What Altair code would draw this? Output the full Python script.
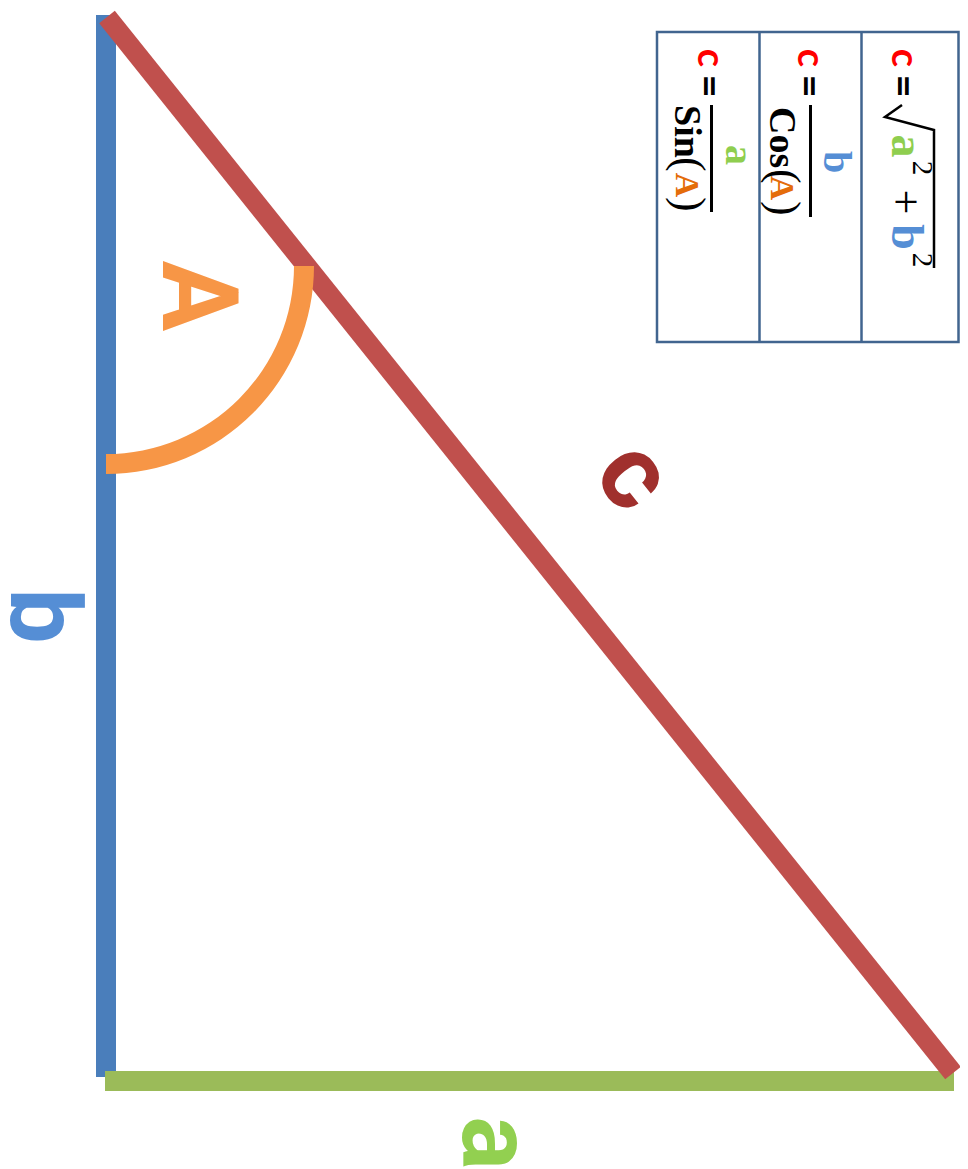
import math
import altair as alt
import pandas as pd

# ---------------- diagram data (diagram units, y grows downward) ----------------
SIDE_NAMES = ["b", "a", "c"]
SIDE_X1 = [106, 105, 107]
SIDE_Y1 = [15, 1081, 17]
SIDE_X2 = [106, 954, 953]
SIDE_Y2 = [1077, 1081, 1073]
SIDE_COLORS = ["#4a7ebb", "#9bbb59", "#c0504d"]

ANGLE_CENTER = [106, 266]          # centre of the angle arc
ANGLE_SPAN_DEG = [90, 180]         # clockwise from 12 o'clock

LABELS = ["A", "b", "c", "a"]
LABEL_X = [163, 11, 633, 463]
LABEL_Y = [296, 616, 476, 1143]
LABEL_ANGLE = [90, 90, 51, 90]
LABEL_SIZE = [105, 98, 105, 100]
LABEL_COLORS = ["#f79646", "#558ed5", "#a0302d", "#92d050"]

TABLE_COLS = [657, 759.5, 861.5, 958.5]
TABLE_ROWS = [32, 342]

# formula pieces: text, baseline x, y, style
F_TEXT = ["c", "=", "a", "2", "+", "b", "2",
          "c", "=", "b", "Cos", "(", "A", ")",
          "c", "=", "a", "Sin", "(", "A", ")"]
F_X = [892, 890, 892, 913, 891, 892, 913,
       798, 796, 824, 770, 770, 771, 770,
       698, 696, 726, 675, 675, 676, 675]
F_Y = [58, 86, 146, 168, 202, 237, 260,
       58, 86, 162, 107, 169, 188, 201,
       58, 86, 155, 105, 157, 185, 197]
F_STYLE = ["cv", "eq", "ra", "sup", "plus", "rb", "sup",
           "cv", "eq", "nb", "fn", "par", "arg", "par",
           "cv", "eq", "na", "fn", "par", "arg", "par"]

RADICAL_X = [902, 885, 934, 934]
RADICAL_Y = [105, 117, 130, 268]

BAR_X = [810.5, 711.5]
BAR_Y1 = [105, 105]
BAR_Y2 = [217, 212]

STYLES = {
    "cv": dict(font="Lato", fontWeight="bold", fontSize=38, color="#ff0000", align="center"),
    "eq": dict(font="Lato", fontWeight="bold", fontSize=40, color="#000000", align="center"),
    "ra": dict(font="Liberation Serif", fontWeight="bold", fontSize=46, color="#8fce4f", align="center"),
    "rb": dict(font="Liberation Serif", fontWeight="bold", fontSize=46, color="#558ed5", align="center"),
    "sup": dict(font="Liberation Serif", fontWeight="normal", fontSize=29, color="#000000", align="center"),
    "plus": dict(font="Liberation Serif", fontWeight="normal", fontSize=44, color="#000000", align="center"),
    "nb": dict(font="Liberation Serif", fontWeight="bold", fontSize=40, color="#558ed5", align="center"),
    "na": dict(font="Liberation Serif", fontWeight="bold", fontSize=40, color="#8fce4f", align="center"),
    "fn": dict(font="Liberation Serif", fontWeight="bold", fontSize=38, color="#000000", align="left"),
    "par": dict(font="Liberation Serif", fontWeight="normal", fontSize=44, color="#000000", align="left"),
    "arg": dict(font="Liberation Serif", fontWeight="bold", fontSize=34, color="#e46c0a", align="center"),
}

# ---------------- scales ----------------
W, H = 952, 1170
XS = alt.Scale(domain=[8, 960], nice=False, zero=False)
YS = alt.Scale(domain=[8, 1178], nice=False, zero=False, reverse=True)


def X(f):
    return alt.X(f, type="quantitative", scale=XS, axis=None)


def Y(f):
    return alt.Y(f, type="quantitative", scale=YS, axis=None)


layers = []

# table
tbl = pd.DataFrame({"x": [TABLE_COLS[0]], "x2": [TABLE_COLS[-1]],
                    "y": [TABLE_ROWS[0]], "y2": [TABLE_ROWS[1]]})
layers.append(alt.Chart(tbl).mark_rect(fill="white", stroke="#41658f", strokeWidth=2.5).encode(
    x=X("x"), x2="x2", y=Y("y"), y2="y2"))
div = pd.DataFrame({"x": TABLE_COLS[1:-1], "y": [TABLE_ROWS[0]] * 2, "y2": [TABLE_ROWS[1]] * 2})
layers.append(alt.Chart(div).mark_rule(color="#41658f", strokeWidth=2.5).encode(
    x=X("x"), y=Y("y"), y2="y2"))

# triangle sides (blue, green, red on top)
for i in range(3):
    d = pd.DataFrame({"side": [SIDE_NAMES[i]], "x": [SIDE_X1[i]], "y": [SIDE_Y1[i]],
                      "x2": [SIDE_X2[i]], "y2": [SIDE_Y2[i]]})
    layers.append(alt.Chart(d).mark_rule(color=SIDE_COLORS[i], strokeWidth=20, strokeCap="butt").encode(
        x=X("x"), y=Y("y"), x2="x2", y2="y2"))

# angle arc
arc = pd.DataFrame({"x": [ANGLE_CENTER[0]], "y": [ANGLE_CENTER[1]]})
layers.append(alt.Chart(arc).mark_arc(
    color="#f79646", radius=208, radius2=188,
    theta=math.radians(ANGLE_SPAN_DEG[0]), theta2=math.radians(ANGLE_SPAN_DEG[1])
).encode(x=X("x"), y=Y("y")))

# big labels
for i in range(4):
    d = pd.DataFrame({"t": [LABELS[i]], "x": [LABEL_X[i]], "y": [LABEL_Y[i]]})
    layers.append(alt.Chart(d).mark_text(
        font="Roboto", fontWeight="bold", fontSize=LABEL_SIZE[i], color=LABEL_COLORS[i],
        angle=LABEL_ANGLE[i], align="center",
        baseline="middle" if LABELS[i] == "c" else "alphabetic"
    ).encode(x=X("x"), y=Y("y"), text="t"))

# radical sign
rad = pd.DataFrame({"x": RADICAL_X, "y": RADICAL_Y, "o": list(range(len(RADICAL_X)))})
layers.append(alt.Chart(rad).mark_line(color="black", strokeWidth=2.5, strokeJoin="miter").encode(
    x=X("x"), y=Y("y"), order="o"))

# fraction bars
bars = pd.DataFrame({"x": BAR_X, "y": BAR_Y1, "y2": BAR_Y2})
layers.append(alt.Chart(bars).mark_rule(color="black", strokeWidth=3).encode(
    x=X("x"), y=Y("y"), y2="y2"))

# formula text pieces
for t, x, y, s in zip(F_TEXT, F_X, F_Y, F_STYLE):
    d = pd.DataFrame({"t": [t], "x": [x], "y": [y]})
    layers.append(alt.Chart(d).mark_text(angle=90, baseline="alphabetic", **STYLES[s]).encode(
        x=X("x"), y=Y("y"), text="t"))

chart = alt.layer(*layers).properties(
    width=W, height=H, padding=0, autosize=alt.AutoSizeParams(type="none"), background="white"
).configure_view(stroke=None)

chart.save("out.html", embed_options={"renderer": "svg", "actions": False})
